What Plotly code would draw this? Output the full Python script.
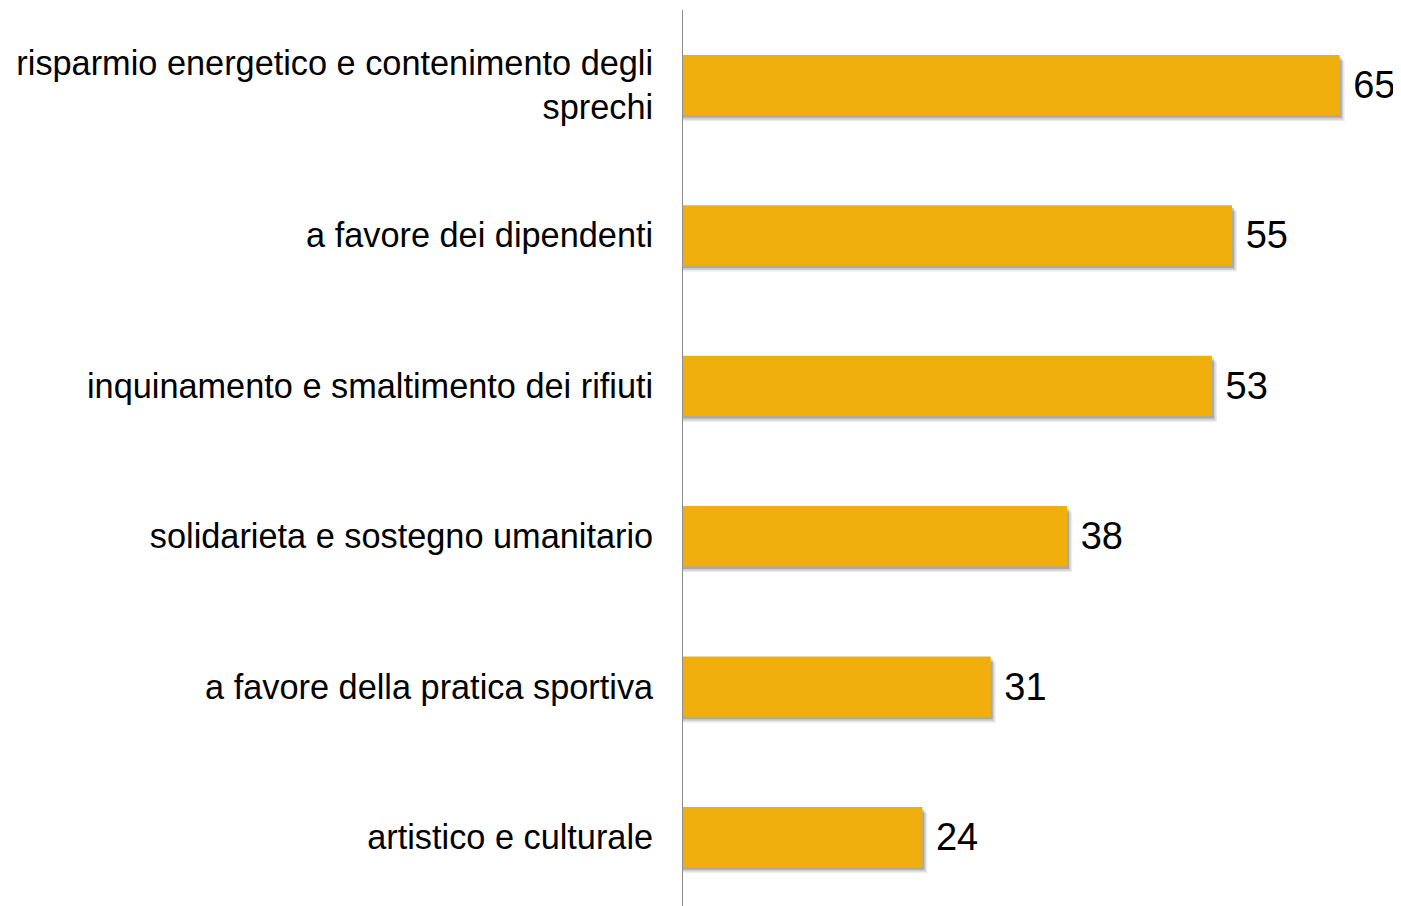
import plotly.graph_objects as go

categories = [
    "risparmio energetico e contenimento degli<br>sprechi",
    "a favore dei dipendenti",
    "inquinamento e smaltimento dei rifiuti",
    "solidarieta e sostegno umanitario",
    "a favore della pratica sportiva",
    "artistico e culturale",
]
values = [65.3, 54.6, 52.6, 38.2, 30.6, 23.8]

positions = list(range(len(categories)))
bar_w = 0.40

fig = go.Figure()
# soft shadow layers
for dx, dy, alpha in [(0.5, 0.04, 0.07), (0.35, 0.03, 0.12), (0.2, 0.018, 0.18)]:
    fig.add_trace(go.Bar(
        y=positions, x=[v + dx for v in values], orientation="h",
        width=bar_w, offset=-bar_w / 2 + dy,
        marker=dict(color=f"rgba(0,0,0,{alpha})", line=dict(width=0)),
        hoverinfo="skip", showlegend=False,
    ))
fig.add_trace(go.Bar(
    y=positions, x=values, orientation="h",
    width=bar_w, offset=-bar_w / 2,
    marker=dict(color="#F0AF0C", line=dict(width=0)),
    text=[f"{v:.0f}" for v in values],
    texttemplate="\u00a0%{text}",
    textposition="outside", cliponaxis=False,
    textfont=dict(family="Liberation Sans, Arial, sans-serif", size=38, color="#000000"),
    showlegend=False,
))

fig.update_layout(
    width=1393, height=898,
    margin=dict(l=675, r=0, t=2, b=0, autoexpand=False),
    paper_bgcolor="white", plot_bgcolor="white",
    barmode="overlay",
    font=dict(family="Liberation Sans, Arial, sans-serif", color="#000000"),
    xaxis=dict(range=[0, 71.4], visible=False, showgrid=False, zeroline=False),
    yaxis=dict(
        range=[5.459, -0.499], tickvals=positions, ticktext=categories,
        showline=True, linecolor="#8c8c8c", linewidth=1,
        showgrid=False, zeroline=False, ticks="",
        ticklabelstandoff=22,
        tickfont=dict(family="Liberation Sans, Arial, sans-serif", size=34.3, color="#000000"),
    ),
)

fig.write_html("out.html")
